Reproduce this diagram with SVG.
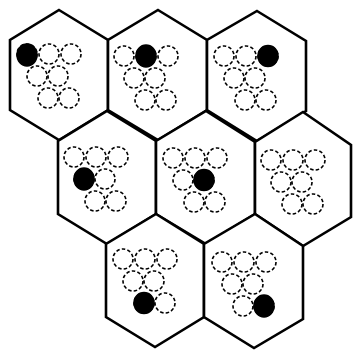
<svg xmlns="http://www.w3.org/2000/svg" xmlns:xlink="http://www.w3.org/1999/xlink" width="355" height="350" viewBox="0 0 355 350">
<style>
.hex{fill:#fff;stroke:#000;stroke-width:2.6;stroke-linejoin:miter}
.ch{fill:none;stroke:#000;stroke-width:1.6;stroke-dasharray:3.5 2.2}
.on{fill:#000;stroke:#000;stroke-width:1.5}
</style>
<defs>
<g id="cluster">
<circle class="ch" cx="0" cy="0" r="10"/>
<circle class="ch" cx="22" cy="0" r="10"/>
<circle class="ch" cx="44" cy="0" r="10"/>
<circle class="ch" cx="10" cy="22" r="10"/>
<circle class="ch" cx="31" cy="22" r="10"/>
<circle class="ch" cx="21" cy="44" r="10"/>
<circle class="ch" cx="42" cy="44" r="10"/>
</g>
</defs>
<rect width="355" height="350" fill="#fff"/>
<g id="cell-r1c1">
<polygon class="hex" points="59,10 108,40 108,110 59,140 10,110 10,40"/>
<use xlink:href="#cluster" x="27" y="54"/>
<ellipse class="on" cx="27" cy="55" rx="10" ry="11"/>
</g>
<g id="cell-r1c2">
<polygon class="hex" points="158,10 207,40 207,110 158,140 108,110 108,40"/>
<use xlink:href="#cluster" x="124" y="56"/>
<ellipse class="on" cx="146" cy="56" rx="10" ry="11"/>
</g>
<g id="cell-r1c3">
<polygon class="hex" points="257,11 306,41 306,111 257,141 207,110 207,40"/>
<use xlink:href="#cluster" x="224" y="56"/>
<ellipse class="on" cx="268" cy="56" rx="10" ry="10.5"/>
</g>
<g id="cell-r2c1">
<polygon class="hex" points="107,111 156,141 156,214 107,244 58,214 58,141"/>
<use xlink:href="#cluster" x="74" y="157"/>
<ellipse class="on" cx="84" cy="179" rx="10" ry="11"/>
</g>
<g id="cell-r2c2">
<polygon class="hex" points="206,111 255,142 255,214 206,244 156,214 156,141"/>
<use xlink:href="#cluster" x="173" y="158"/>
<ellipse class="on" cx="204" cy="180" rx="10" ry="10.5"/>
</g>
<g id="cell-r2c3">
<polygon class="hex" points="303,112 351,145 351,217 303,246 255,214 255,142"/>
<use xlink:href="#cluster" x="271" y="160"/>
</g>
<g id="cell-r3c1">
<polygon class="hex" points="156,214 204,244 204,317 155,347 106,317 106,244"/>
<use xlink:href="#cluster" x="123" y="259"/>
<ellipse class="on" cx="144" cy="303" rx="10" ry="10.5"/>
</g>
<g id="cell-r3c2">
<polygon class="hex" points="255,214 303,246 303,319 254,348 204,317 204,244"/>
<use xlink:href="#cluster" x="222" y="262"/>
<ellipse class="on" cx="264" cy="306" rx="10" ry="11"/>
</g>
<g id="connectors"/>
</svg>
